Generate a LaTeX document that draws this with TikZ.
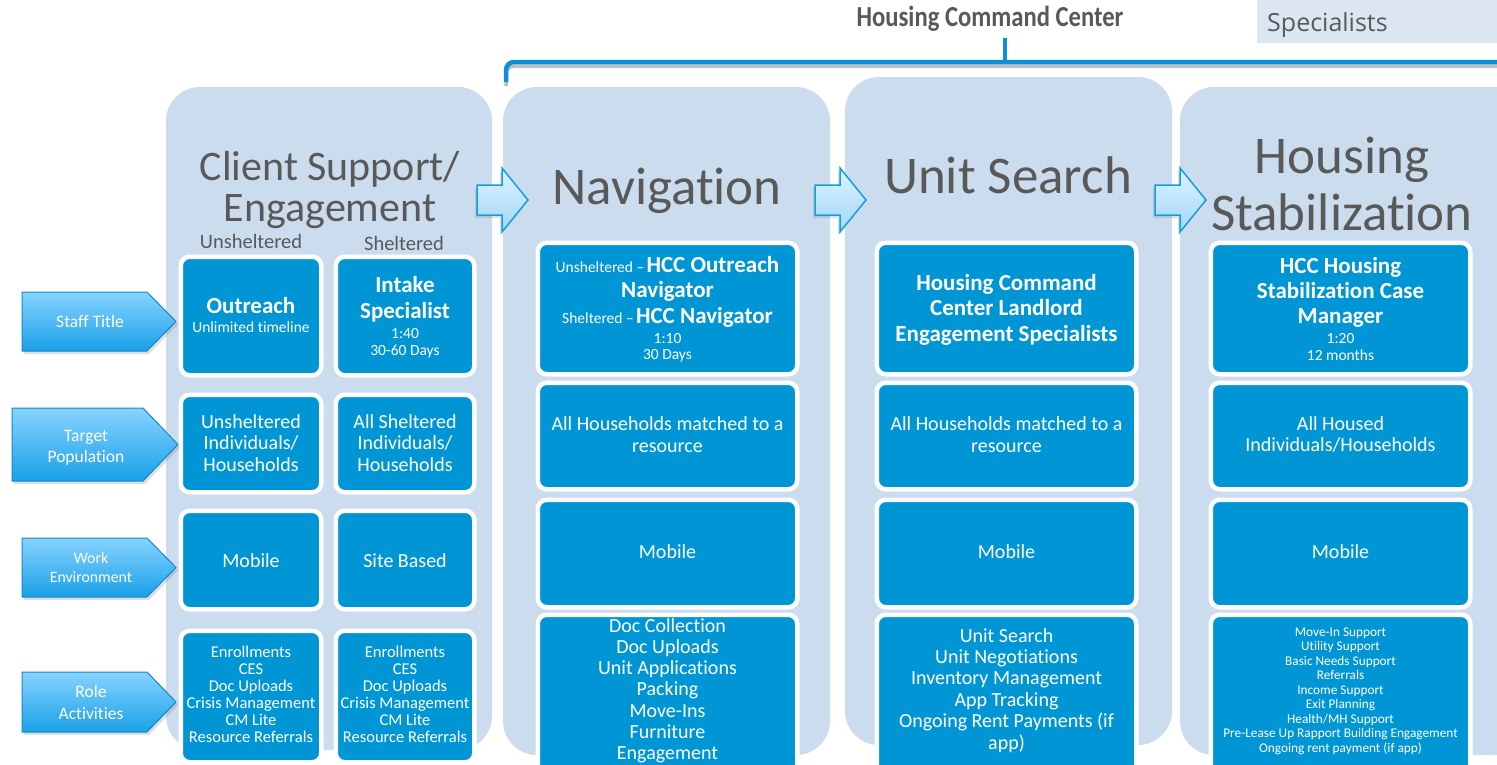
\documentclass[tikz,border=0pt]{standalone}
\usepackage{fontspec}
\setmainfont{Carlito}[Ligatures={NoCommon}, Contextuals={NoAlternate}]
\newfontfamily\specfont{Open Sans}
\usetikzlibrary{shadows}
\definecolor{colbg}{HTML}{CCDCEF}
\definecolor{boxblue}{HTML}{0096D6}
\definecolor{titlegray}{HTML}{595959}
\definecolor{brkblue}{HTML}{0A90D8}
\definecolor{lbltop}{HTML}{86D3FF}
\definecolor{lblbot}{HTML}{1AA0E8}
\definecolor{lbledge}{HTML}{1488CC}
\definecolor{arrtop}{HTML}{DDF2FF}
\definecolor{arrbot}{HTML}{A2D7F6}
\definecolor{arredge}{HTML}{12A0DC}
\definecolor{specbg}{HTML}{DCE6F2}
\newcommand\fsz[2]{\fontsize{#1}{#2}\selectfont}
\begin{document}
\begin{tikzpicture}[x=1pt,y=-1pt,
  colbox/.style={fill=colbg, rounded corners=34pt, inner sep=0pt},
  ibox/.style={fill=boxblue, draw=white, line width=4.5pt, rounded corners=9pt, inner sep=0pt},
  coltitle/.style={text=titlegray, font=\fsz{53}{53}, inner sep=0pt, anchor=base},
  wt/.style={text=white, inner sep=0pt, anchor=base},
  bt/.style={wt, font=\bfseries\fsz{23}{26}},
  st/.style={wt, font=\fsz{15.5}{18}},
  mt/.style={wt, font=\fsz{20}{22}},
  lblshape/.style={top color=lbltop, bottom color=lblbot, draw=lbledge, line width=1pt,
     drop shadow={opacity=0.25, shadow xshift=2pt, shadow yshift=-3pt}},
  arrshape/.style={top color=arrtop, bottom color=arrbot, draw=arredge, line width=1.5pt,
     drop shadow={opacity=0.25, shadow xshift=-2pt, shadow yshift=-3pt}},
  lbltext/.style={text=white, inner sep=0pt, anchor=base}
]
\useasboundingbox (0,0) rectangle (1497,764);
\begin{scope}
\clip (0,0) rectangle (1497,764);
\fill[white] (0,0) rectangle (1497,764);

% column backgrounds
\node[colbox, minimum width=326, minimum height=663] (c1) at (329,418.5) {};
\node[colbox, minimum width=327, minimum height=668] (c2) at (666.5,421) {};
\node[colbox, minimum width=327, minimum height=668] (c3) at (1008.5,411) {};
\node[colbox, minimum width=350, minimum height=668] (c4) at (1355,421) {};

% top bracket
\draw[black!25, line width=3.5pt, line join=round] (506,86) -- (506,74) to[out=90,in=180] (514,66) -- (1497,66);
\draw[brkblue, line width=4.5pt, line join=round] (506,82) -- (506,70) to[out=90,in=180] (514,62) -- (1497,62);
\draw[brkblue, line width=4.5pt] (1005,62) -- (1005,38);
\node[font=\bfseries\fsz{29}{30}, text=titlegray, inner sep=0pt, anchor=base] (hcc) at (990,26) {\scalebox{0.85}[1]{Housing Command Center}};
\node[fill=specbg, minimum width=240, minimum height=43, inner sep=0pt, anchor=north west] (specbox) at (1257,0) {};
\node[font=\specfont\fsz{25}{28}, text=titlegray, inner sep=0pt, anchor=base west] (spec) at (1267,31) {Specialists};

% column titles
\node[coltitle, font=\fsz{42}{42}] (t1a) at (330,180) {Client Support/};
\node[coltitle, font=\fsz{42}{42}] (t1b) at (330,221) {Engagement};
\node[coltitle] (t2) at (667,204) {Navigation};
\node[coltitle] (t3) at (1008,193) {Unit Search};
\node[coltitle] (t4a) at (1342,173) {Housing};
\node[coltitle] (t4b) at (1342,230) {Stabilization};
\node[text=titlegray, font=\fsz{20.5}{22}, inner sep=0pt, anchor=base] (lu) at (251,248) {Unsheltered};
\node[text=titlegray, font=\fsz{20.5}{22}, inner sep=0pt, anchor=base] (ls) at (404,250) {Sheltered};

% column 1 boxes
\node[ibox, minimum width=140.5, minimum height=118.5] (b1a) at (251,316) {};
\node[ibox, minimum width=138.5, minimum height=118.5] (b1b) at (405,316) {};
\node[ibox, minimum width=140.5, minimum height=97.5] (b2a) at (251,443.5) {};
\node[ibox, minimum width=138.5, minimum height=97.5] (b2b) at (405,443.5) {};
\node[ibox, minimum width=140.5, minimum height=98.5] (b3a) at (251,560) {};
\node[ibox, minimum width=138.5, minimum height=98.5] (b3b) at (405,560) {};
\node[ibox, minimum width=140.5, minimum height=131.5] (b4a) at (251,696.5) {};
\node[ibox, minimum width=138.5, minimum height=131.5] (b4b) at (405,696.5) {};

% columns 2-4 boxes
\foreach \cx/\nm in {667.5/n, 1006.5/u, 1340.5/h}{
  \node[ibox, minimum width=259.5, minimum height=131.5] (\nm1) at (\cx,308.5) {};
  \node[ibox, minimum width=259.5, minimum height=106.5] (\nm2) at (\cx,436) {};
  \node[ibox, minimum width=259.5, minimum height=107.5] (\nm3) at (\cx,553.5) {};
  \node[ibox, minimum width=259.5, minimum height=162.5] (\nm4) at (\cx,696) {};
}

% column 1 texts
\node[bt] (outT) at (251,313) {Outreach};
\node[st] (outS) at (251,332) {Unlimited timeline};
\node[bt] (intT1) at (405,292) {Intake};
\node[bt] (intT2) at (405,318) {Specialist};
\node[st] (intS1) at (405,338) {1:40};
\node[st] (intS2) at (405,355) {30-60 Days};
\foreach \t [count=\i] in {Unsheltered, Individuals/, Households}
  \node[mt] (pa\i) at (251,{428+21.5*(\i-1)}) {\t};
\foreach \t [count=\i] in {All Sheltered, Individuals/, Households}
  \node[mt] (pb\i) at (405,{428+21.5*(\i-1)}) {\t};
\node[mt] (mob1) at (251,567) {Mobile};
\node[mt] (site) at (405,567) {Site Based};
\foreach \t [count=\i] in {Enrollments, CES, Doc Uploads, Crisis Management, CM Lite, Resource Referrals}{
  \node[wt, font=\fsz{16.5}{17}] (ra\i) at (251,{657+17*(\i-1)}) {\t};
  \node[wt, font=\fsz{16.5}{17}] (rb\i) at (405,{657+17*(\i-1)}) {\t};
}

% column 2 texts
\node[wt] (n1l1) at (667.5,272) {{\fsz{15.5}{18}Unsheltered –} {\bfseries\fsz{23}{26}HCC Outreach}};
\node[bt] (n1l2) at (667.5,297) {Navigator};
\node[wt] (n1l3) at (667.5,323) {{\fsz{15.5}{18}Sheltered –} {\bfseries\fsz{23}{26}HCC Navigator}};
\node[st] (n1l4) at (667.5,343) {1:10};
\node[st] (n1l5) at (667.5,359) {30 Days};
\node[mt] (n2l1) at (667.5,430) {All Households matched to a};
\node[mt] (n2l2) at (667.5,452) {resource};
\node[mt] (n3l1) at (667.5,558) {Mobile};
\foreach \t [count=\i] in {Doc Collection, Doc Uploads, Unit Applications, Packing, Move-Ins, Furniture, Engagement}
  \node[mt] (n4l\i) at (667.5,{632+21.3*(\i-1)}) {\t};

% column 3 texts
\node[bt] (u1l1) at (1006.5,290) {Housing Command};
\node[bt] (u1l2) at (1006.5,315) {Center Landlord};
\node[bt] (u1l3) at (1006.5,341) {Engagement Specialists};
\node[mt] (u2l1) at (1006.5,430) {All Households matched to a};
\node[mt] (u2l2) at (1006.5,452) {resource};
\node[mt] (u3l1) at (1006.5,558) {Mobile};
\foreach \t [count=\i] in {Unit Search, Unit Negotiations, Inventory Management, App Tracking, Ongoing Rent Payments (if, app)}
  \node[mt] (u4l\i) at (1006.5,{642+21.4*(\i-1)}) {\t};

% column 4 texts
\node[bt] (h1l1) at (1340.5,273) {HCC Housing};
\node[bt] (h1l2) at (1340.5,298) {Stabilization Case};
\node[bt] (h1l3) at (1340.5,323) {Manager};
\node[st] (h1l4) at (1340.5,343) {1:20};
\node[st] (h1l5) at (1340.5,360) {12 months};
\node[mt] (h2l1) at (1340.5,430) {All Housed};
\node[mt] (h2l2) at (1340.5,451) {Individuals/Households};
\node[mt] (h3l1) at (1340.5,558) {Mobile};
\foreach \t [count=\i] in {Move-In Support, Utility Support, Basic Needs Support, Referrals, Income Support, Exit Planning, Health/MH Support, Pre-Lease Up Rapport Building Engagement, Ongoing rent payment (if app)}
  \node[wt, font=\fsz{13.3}{14.5}] (h4l\i) at (1340.5,{636+14.5*(\i-1)}) {\t};

% left row labels
\draw[lblshape] (22,292) -- (147,292) -- (176,321.5) -- (147,351) -- (22,351) -- cycle;
\node[lbltext, font=\fsz{17.5}{20}] (lab1) at (90,327.5) {Staff Title};
\draw[lblshape] (12,408) -- (143,408) -- (178,444.5) -- (143,481) -- (12,481) -- cycle;
\node[lbltext, font=\fsz{17.5}{20}] (lab2a) at (86,441) {Target};
\node[lbltext, font=\fsz{17.5}{20}] (lab2b) at (86,462) {Population};
\draw[lblshape] (22,538) -- (147,538) -- (176,567.5) -- (147,597) -- (22,597) -- cycle;
\node[lbltext, font=\fsz{15.8}{18}] (lab3a) at (91,563) {Work};
\node[lbltext, font=\fsz{15.8}{18}] (lab3b) at (91,582) {Environment};
\draw[lblshape] (22,672) -- (147,672) -- (176,702) -- (147,732) -- (22,732) -- cycle;
\node[lbltext, font=\fsz{17.5}{20}] (lab4a) at (91,697) {Role};
\node[lbltext, font=\fsz{17.5}{20}] (lab4b) at (91,719) {Activities};

% block arrows between columns
\foreach \bx in {477, 815, 1155}{
  \draw[arrshape] (\bx,185) -- ({\bx+25},185) -- ({\bx+25},168) -- ({\bx+51},200)
     -- ({\bx+25},232) -- ({\bx+25},215) -- (\bx,215) -- cycle;
}
\end{scope}
\end{tikzpicture}
\end{document}
